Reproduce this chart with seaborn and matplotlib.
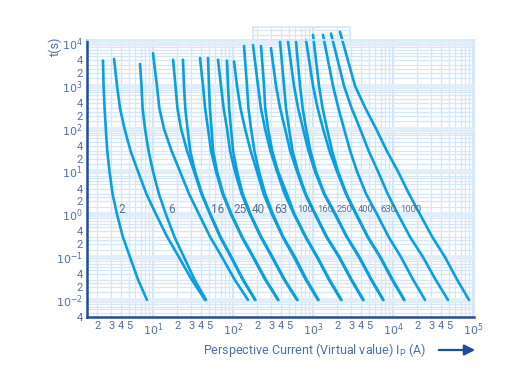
import numpy as np
import pandas as pd
import seaborn as sns
import matplotlib.pyplot as plt
from matplotlib.patches import FancyArrowPatch

sns.set_style("white")
plt.rcParams['font.family'] = ['Roboto', 'DejaVu Sans']

# fuse ratings (A), where each curve starts (time s, current A), then the
# current at each of the common time levels - all read off the chart
ratings = [2, 4, 6, 10, 16, 20, 25, 32, 40, 50, 63, 80, 100, 125, 160, 200,
           250, 315, 400, 500, 630, 800, 1000]
top_times = [3890, 4266, 3236, 5754, 4074, 4074, 4467, 4467, 4074, 3890, 3715, 8511,
             8913, 8511, 7586, 10965, 10965, 10715, 11749, 15488, 15488, 16596, 18197]
top_currents = [2.37, 3.26, 6.88, 10.0, 17.8, 23.7, 38.7, 48.7, 64.9, 84.1, 102.9, 137.2,
                177.8, 223.9, 298.5, 386.8, 487, 613, 817.5, 1000, 1334, 1679, 2175]
levels = [1000, 300, 100, 30, 10, 3, 1, 0.3, 0.1, 0.03, 0.01]

currents = {
    2:    [2.41, 2.48, 2.57, 2.68, 2.86, 3.12, 3.55, 4.19, 5.16, 6.49, 8.41],
    4:    [3.55, 3.87, 4.40, 5.25, 6.49, 8.27, 10.9, 15.0, 21.1, 30.4, 44.7],
    6:    [7.18, 7.41, 7.94, 8.81, 10.0, 11.85, 14.5, 18.5, 24.4, 33.0, 46.0],
    10:   [11.2, 12.0, 13.7, 17.1, 21.75, 28.2, 37.6, 51.6, 72.9, 104.7, 154],
    16:   [19.1, 20.2, 22.4, 26.7, 32.6, 40.3, 51.6, 68.6, 94.4, 131.9, 188.4],
    20:   [24.4, 25.3, 27.0, 29.2, 33.5, 41.0, 52.3, 69.7, 95.8, 133.8, 191],
    25:   [42.2, 44.8, 48.7, 53.2, 61.3, 74.1, 94.4, 128, 177.8, 252, 365],
    32:   [50.1, 51.4, 53.9, 56.4, 63.1, 75.6, 95.8, 130, 180.7, 256, 370],
    40:   [70.8, 76.3, 84.1, 92.0, 105.9, 128, 163, 221.5, 307, 435, 631],
    50:   [86.6, 89.4, 94.4, 100.3, 112.2, 132.3, 165.5, 224.5, 312, 441, 640],
    63:   [112.2, 124, 141.3, 166.4, 199.5, 241.3, 307, 417.5, 579, 810, 1155],
    80:   [149.6, 156, 167.9, 185.4, 211.3, 252.7, 316, 421.7, 595.7, 829, 1172],
    100:  [205.4, 223.3, 251.2, 293.5, 354.8, 442, 578.8, 801, 1122, 1576, 2239],
    125:  [244.1, 252.7, 273.8, 309, 365.2, 472, 587, 812, 1138, 1603, 2271],
    160:  [344.7, 387.9, 446.7, 518.8, 631, 796, 1059, 1462, 2113, 2985, 4217],
    200:  [434, 459.7, 501.2, 554.3, 649.4, 810, 1074, 1484, 2144, 3029, 4278],
    250:  [578.8, 651.3, 749.9, 881, 1059, 1372, 1884, 2623, 3758, 5309, 7499],
    315:  [687.9, 743, 817.5, 930, 1090, 1392, 1911, 2653, 3813, 5386, 7608],
    400:  [1000, 1142, 1334, 1608, 1995, 2578, 3447, 4787, 6879, 9716, 13720],
    500:  [1189, 1318, 1496, 1733, 2054, 2616, 3497, 4842, 6978, 9858, 13920],
    630:  [1778, 2078, 2441, 2917, 3548, 4610, 6310, 8787, 12590, 17780, 25120],
    800:  [2441, 3039, 3868, 4969, 6494, 8584, 11550, 16260, 23710, 33990, 48700],
    1000: [3350, 4519, 6131, 8390, 11550, 15850, 21750, 30820, 44670, 63100, 89130],
}

label_text = ['2', '6', '16', '25', '40', '63', '100', '160', '250', '400', '630', '1000']
label_x = [3.65, 15.4, 53.1, 100, 173, 325, 631, 1122, 1995, 3652, 6880, 12240]
label_t = 1.3

yticks = [1e4, 4e3, 2e3, 1e3, 400, 200, 100, 40, 20, 10, 4, 2, 1, 0.4, 0.2, 0.1,
          0.04, 0.02, 0.01, 0.004]
ylabels = ['$10^4$', '4', '2', '$10^3$', '4', '2', '$10^2$', '4', '2', '$10^1$', '4', '2',
           '$10^0$', '4', '2', '$10^{-1}$', '4', '2', '$10^{-2}$', '4']
xticks = [2, 3, 4, 5, 10, 20, 30, 40, 50, 100, 200, 300, 400, 500, 1000,
          2000, 3000, 4000, 5000, 1e4, 2e4, 3e4, 4e4, 5e4, 1e5]
xlabels = ['2', '3', '4', '5', '$10^1$', '2', '3', '4', '5', '$10^2$', '2', '3', '4', '5',
           '$10^3$', '2', '3', '4', '5', '$10^4$', '2', '3', '4', '5', '$10^5$']

rows = []
for r, t0, i0 in zip(ratings, top_times, top_currents):
    for t, i in zip([t0] + levels, [i0] + currents[r]):
        rows.append({'rating': r, 't': t, 'I': i})
df = pd.DataFrame(rows)

curve_col = '#0a9fe0'
grid_col = '#d4e7f6'
band_col = '#e1eefa'
axis_col = '#1d4f9e'
text_col = '#4f70a6'

fig = plt.figure(figsize=(5.27, 3.79), dpi=100)
ax = fig.add_axes([87/527, 1-317/379, 387/527, 277/379])
ax.set_zorder(2)

# small strip of grid paper sticking out above the main grid
ax_top = fig.add_axes([253/527, 1-40/379, 97/527, 13/379])
ax_top.set_zorder(1)

for a in (ax, ax_top):
    a.set_xscale('log')
    a.set_yscale('log')

ax.set_xlim(1.496, 1.029e5)
ax.set_ylim(4.25e-3, 1.175e4)
ax_top.set_xlim(177.8, 2900)
ax_top.set_ylim(1.175e4, 2.355e4)

decades_x = [1, 10, 100, 1000, 1e4, 1e5]
decades_y = [1e-3, 1e-2, 1e-1, 1, 10, 100, 1000, 1e4]
for a in (ax, ax_top):
    for d in decades_x:
        for k in range(1, 10):
            a.axvline(k * d, color=grid_col, lw=1.6 if k == 1 else 0.9, zorder=0)
    for d in decades_y:
        for k in [1, 1.5, 2, 2.5, 3, 4, 5, 6, 7, 8, 9]:
            a.axhline(k * d, color=band_col if k == 1 else grid_col,
                      lw=3.5 if k == 1 else 0.9, zorder=0)

ax_top.set_xticks([])
ax_top.set_yticks([])
ax_top.minorticks_off()
for s in ax_top.spines.values():
    s.set_color(grid_col)
    s.set_linewidth(1.2)

sns.lineplot(data=df, x='I', y='t', units='rating', estimator=None, sort=False,
             color=curve_col, lw=1.9, ax=ax, legend=False)
for ln in ax.lines:
    if ln.get_color() == curve_col:
        ln.set_clip_on(False)
        ln.set_solid_joinstyle('round')

for txt, x in zip(label_text, label_x):
    ax.text(x, label_t, txt, fontsize=8.5 if len(txt) < 3 else 6.8, color=text_col,
            ha='left', va='center')

ax.set_yticks(yticks)
ax.set_yticklabels(ylabels)
ax.set_xticks(xticks)
ax.set_xticklabels(xlabels)
ax.minorticks_off()
ax.tick_params(length=0, labelsize=8, labelcolor=text_col, pad=3)
ax.set_xlabel('')
ax.set_ylabel('')

for side in ['left', 'bottom']:
    ax.spines[side].set_color(axis_col)
    ax.spines[side].set_linewidth(1.8)
for side in ['top', 'right']:
    ax.spines[side].set_color(grid_col)
    ax.spines[side].set_linewidth(1.2)

fig.text(55/527, 1-46/379, 't(s)', rotation=90, color=text_col, fontsize=9,
         ha='center', va='center')
fig.text(426/527, 1-350/379, 'Perspective Current (Virtual value) I$_\\mathregular{P}$ (A)',
         color=text_col, fontsize=9, ha='right', va='center')
fig.patches.append(FancyArrowPatch(
    (436/527, 1-350/379), (478/527, 1-350/379), transform=fig.transFigure,
    arrowstyle='-|>', mutation_scale=16, color=axis_col, lw=1.6))

fig.savefig('out.png', dpi=100)
